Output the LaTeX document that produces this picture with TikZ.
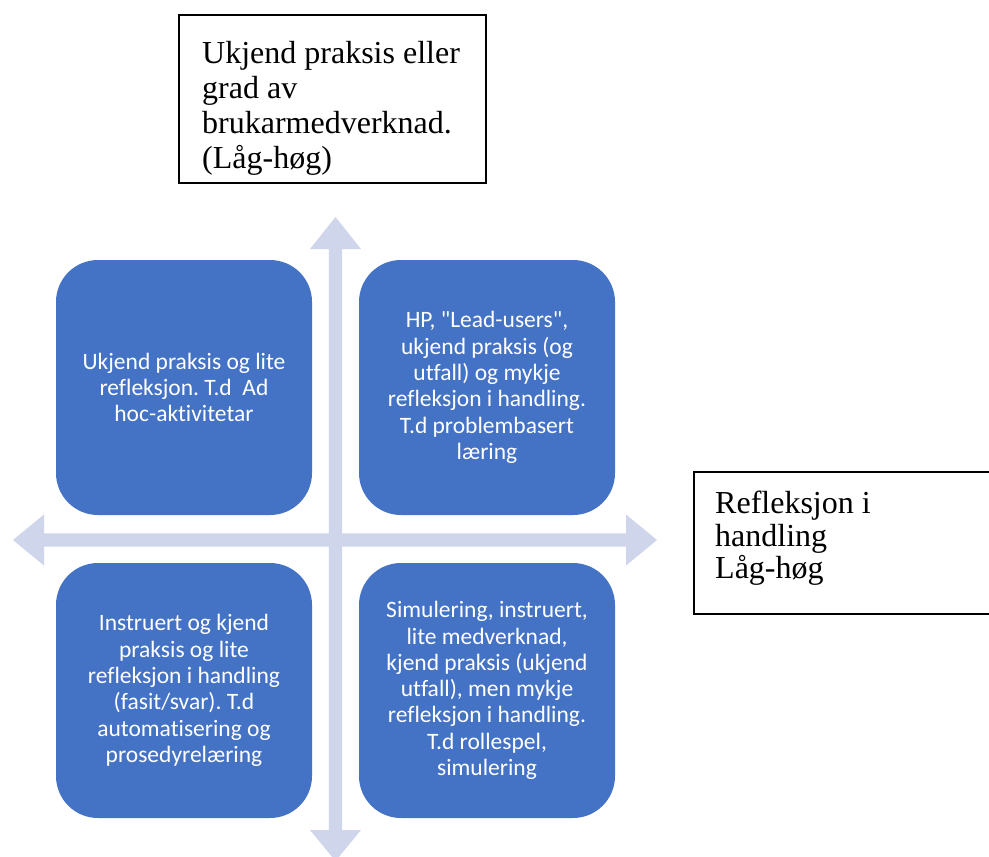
\documentclass[tikz,border=0pt]{standalone}
\usepackage{fontspec}
\setmainfont{Liberation Serif}
\newfontfamily\quadfont[Ligatures=NoCommon]{Carlito}
\definecolor{quadblue}{HTML}{4472C4}
\definecolor{axisgrey}{HTML}{CFD5EA}
\tikzset{
  quadbox/.style={rectangle, rounded corners=42pt, fill=quadblue, text=white,
    minimum width=256pt, minimum height=255pt, inner sep=0pt, align=center,
    font=\quadfont\frenchspacing\fontsize{23.5}{26.3}\selectfont},
  framebox/.style={rectangle, draw=black, line width=1.4pt, inner sep=0pt, fill=white},
  frametext/.style={anchor=north west, inner sep=0pt, align=left,
    font=\frenchspacing\fontsize{32}{35}\selectfont},
}
\begin{document}
\begin{tikzpicture}[x=1pt,y=-1pt]
\clip (0,0) rectangle (989,857);
\fill[white] (0,0) rectangle (989,857);

% the two axes: one cross-shaped double arrow
\coordinate (centre) at (335.5,540);
\fill[axisgrey]
  (13,540) -- (44,514.5) -- (44,533.3) -- (328.8,533.3) -- (328.8,249)
  -- (310,249) -- (335.5,217) -- (361,249) -- (342.2,249) -- (342.2,533.3)
  -- (626,533.3) -- (626,514.5) -- (657,540) -- (626,565.5) -- (626,546.7)
  -- (342.2,546.7) -- (342.2,830) -- (361,830) -- (335.5,861) -- (310,830)
  -- (328.8,830) -- (328.8,546.7) -- (44,546.7) -- (44,565.5) -- cycle;

% four quadrants
\node[quadbox] (tl) at (184,387.5) {Ukjend praksis og lite\\refleksjon. T.d\ \ Ad\\hoc-aktivitetar};
\node[quadbox] (tr) at (487,387.5) {HP, "Lead-users",\\ukjend praksis (og\\utfall) og mykje\\refleksjon i handling.\\T.d problembasert\\læring};
\node[quadbox] (bl) at (184,690.5) {Instruert og kjend\\praksis og lite\\refleksjon i handling\\(fasit/svar). T.d\\automatisering og\\prosedyrelæring};
\node[quadbox] (br) at (487,690.5) {Simulering, instruert,\\lite medverknad,\\kjend praksis (ukjend\\utfall), men mykje\\refleksjon i handling.\\T.d rollespel,\\simulering};

% axis captions
\node[framebox, minimum width=307pt, minimum height=168pt] (vframe) at (332.5,99) {};
\node[frametext] (vtext) at (202,41) {Ukjend praksis eller\\grad av\\brukarmedverknad.\\(Låg-høg)};

\node[framebox, minimum width=316pt, minimum height=142pt] (hframe) at (852,543) {};
\node[frametext, font=\frenchspacing\fontsize{32}{32.5}\selectfont] (htext) at (715,491) {Refleksjon i\\handling\\Låg-høg};
\end{tikzpicture}
\end{document}
